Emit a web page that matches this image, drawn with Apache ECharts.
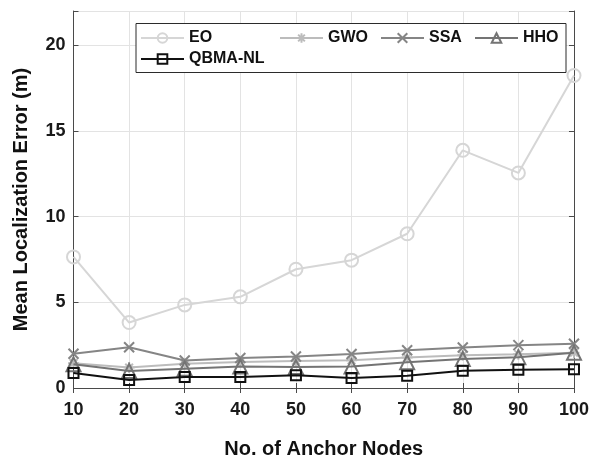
<!DOCTYPE html>
<html>
<head>
<meta charset="utf-8">
<script src="https://cdn.jsdelivr.net/npm/echarts@6/dist/echarts.min.js"></script>
<style>
  html, body { margin: 0; padding: 0; background: #fff; }
  #chart { width: 592px; height: 464px; }
</style>
</head>
<body>
<div id="chart"></div>
<script>
// Number of anchor nodes (x axis)
const anchorNodes = [10, 20, 30, 40, 50, 60, 70, 80, 90, 100];

// Mean localization error (m) per algorithm
const eoError   = [7.65, 3.82, 4.85, 5.32, 6.93, 7.46, 9.0, 13.87, 12.55, 18.24];
const gwoError  = [1.45, 1.19, 1.41, 1.52, 1.58, 1.62, 1.78, 1.91, 1.97, 2.06];
const ssaError  = [2.0, 2.38, 1.6, 1.75, 1.84, 1.98, 2.2, 2.36, 2.5, 2.58];
const hhoError  = [1.38, 0.99, 1.13, 1.25, 1.22, 1.25, 1.5, 1.69, 1.8, 2.06];
const qbmaError = [0.88, 0.47, 0.64, 0.64, 0.74, 0.58, 0.71, 1.0, 1.06, 1.1];

const yTicks = [0, 5, 10, 15, 20];

const FONT = '"Liberation Sans", Arial, sans-serif';
const AXIS_COLOR = '#4a4a4a';
const GRID_COLOR = '#e3e3e3';

const asteriskPath = 'path://M5,0L5,10M0,5L10,5M1.5,1.5L8.5,8.5M8.5,1.5L1.5,8.5';
const crossPath = 'path://M0,0L10,10M10,0L0,10';

function pairs(values) {
  return anchorNodes.map((x, i) => [x, values[i]]);
}

function makeSeries(name, values, color, symbol, size, z) {
  return {
    name: name,
    type: 'line',
    data: pairs(values),
    symbol: symbol,
    symbolSize: size,
    showSymbol: true,
    z: z,
    lineStyle: { color: color, width: 2 },
    itemStyle: { color: 'rgba(255,255,255,0)', borderColor: color, borderWidth: 2 },
    emphasis: { disabled: true },
    animation: false
  };
}

const series = [
  makeSeries('EO', eoError, '#d6d6d6', 'circle', 13, 2),
  makeSeries('GWO', gwoError, '#bcbcbc', asteriskPath, 11, 3),
  makeSeries('SSA', ssaError, '#858585', crossPath, 10, 4),
  makeSeries('HHO', hhoError, '#747474', 'triangle', 14, 5),
  makeSeries('QBMA-NL', qbmaError, '#111111', 'rect', 10, 6)
];

// one legend block per entry so each can sit in its own column
const legendSlots = [
  { name: 'EO', left: 140, top: 30 },
  { name: 'GWO', left: 279, top: 30 },
  { name: 'SSA', left: 380, top: 30 },
  { name: 'HHO', left: 474, top: 30 },
  { name: 'QBMA-NL', left: 140, top: 51 }
];

const legends = legendSlots.map(s => ({
  data: [s.name],
  left: s.left,
  top: s.top,
  padding: 0,
  itemWidth: 43,
  itemHeight: 12,
  selectedMode: false,
  z: 6,
  textStyle: { fontFamily: FONT, fontWeight: 'bold', fontSize: 16, color: '#111' }
}));

const chart = echarts.init(document.getElementById('chart'), null, { renderer: 'canvas' });

const gridRect = { left: 73.5, right: 16.5, top: 11, bottom: 62.3 };

chart.setOption({
  backgroundColor: '#fff',
  animation: false,
  legend: legends,
  grid: Object.assign({ containLabel: false }, gridRect),
  graphic: [{
    type: 'rect',
    shape: { x: 136, y: 23.5, width: 430, height: 49 },
    style: { fill: '#fff', stroke: '#2b2b2b', lineWidth: 1 },
    z: 5
  }],
  xAxis: [{
    type: 'value',
    min: 10, max: 100, interval: 10,
    name: 'No. of Anchor Nodes',
    nameLocation: 'middle',
    nameGap: 51,
    nameTextStyle: { fontFamily: FONT, fontWeight: 'bold', fontSize: 20, color: '#111' },
    axisLine: { show: true, lineStyle: { color: AXIS_COLOR, width: 1 } },
    axisTick: { show: true, inside: true, length: 5, lineStyle: { color: AXIS_COLOR } },
    axisLabel: { fontFamily: FONT, fontWeight: 'bold', fontSize: 18, color: '#1a1a1a', margin: 13 },
    splitLine: { show: true, lineStyle: { color: GRID_COLOR, width: 1 } }
  }, {
    type: 'value', position: 'top',
    min: 10, max: 100, interval: 10,
    axisLine: { show: true, lineStyle: { color: AXIS_COLOR, width: 1 } },
    axisTick: { show: true, inside: true, length: 5, lineStyle: { color: AXIS_COLOR } },
    axisLabel: { show: false },
    splitLine: { show: false }
  }],
  yAxis: [{
    type: 'value',
    min: 0, max: 22, interval: 5,
    name: 'Mean Localization Error (m)',
    nameLocation: 'middle',
    nameGap: 42,
    nameTextStyle: { fontFamily: FONT, fontWeight: 'bold', fontSize: 20, color: '#111' },
    axisLine: { show: true, lineStyle: { color: AXIS_COLOR, width: 1 } },
    axisTick: { show: true, inside: true, length: 5, lineStyle: { color: AXIS_COLOR } },
    axisLabel: {
      fontFamily: FONT, fontWeight: 'bold', fontSize: 18, color: '#1a1a1a', margin: 8,
      formatter: v => (yTicks.indexOf(v) >= 0 ? String(v) : '')
    },
    splitLine: { show: true, lineStyle: { color: GRID_COLOR, width: 1 } }
  }, {
    type: 'value', position: 'right',
    min: 0, max: 22, interval: 5,
    axisLine: { show: true, lineStyle: { color: AXIS_COLOR, width: 1 } },
    axisTick: { show: true, inside: true, length: 5, lineStyle: { color: AXIS_COLOR } },
    axisLabel: { show: false },
    splitLine: { show: false }
  }],
  series: series
});
</script>
</body>
</html>
